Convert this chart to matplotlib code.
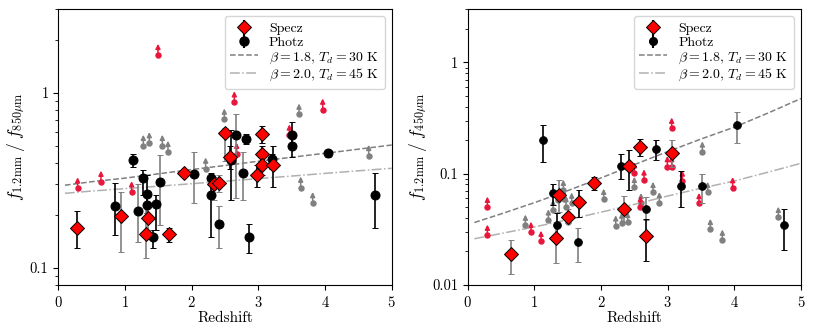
import numpy as np
import matplotlib.pyplot as plt
from matplotlib import ticker
from matplotlib.lines import Line2D

plt.rcParams['font.family'] = 'serif'
plt.rcParams['font.serif'] = ['cmr10', 'DejaVu Serif']
plt.rcParams['mathtext.fontset'] = 'cm'
plt.rcParams['axes.formatter.use_mathtext'] = True
plt.rcParams['font.size'] = 10

# ---------------- left panel: f1.2mm / f850um ----------------
l_spec_z  = [0.285, 0.94, 1.31, 1.35, 1.665, 1.88, 2.33, 2.405, 2.495, 2.575, 2.975, 3.055, 3.055, 3.06, 3.215]
l_spec_r  = [0.170, 0.198, 0.156, 0.193, 0.156, 0.347, 0.302, 0.304, 0.587, 0.432, 0.341, 0.582, 0.448, 0.388, 0.389]
l_spec_lo = [0.130, 0.124, 0.114, 0.165, 0.140, 0.330, 0.246, 0.270, 0.410, 0.370, 0.291, 0.520, 0.400, 0.340, 0.290]
l_spec_hi = [0.212, 0.271, 0.230, 0.230, 0.170, 0.362, 0.330, 0.340, 0.630, 0.500, 0.388, 0.646, 0.500, 0.440, 0.500]

l_phot_z  = [0.855, 1.125, 1.195, 1.275, 1.33, 1.33, 1.425, 1.46, 1.525, 2.035, 2.29, 2.29,
             2.405, 2.585, 2.66, 2.77, 2.815, 2.86, 3.2, 3.505, 3.505, 4.045, 4.745]
l_phot_r  = [0.227, 0.412, 0.212, 0.328, 0.265, 0.230, 0.150, 0.231, 0.309, 0.344, 0.328, 0.261,
             0.179, 0.414, 0.574, 0.347, 0.545, 0.150, 0.420, 0.572, 0.497, 0.455, 0.261]
l_phot_lo = [0.155, 0.378, 0.140, 0.260, 0.205, 0.200, 0.130, 0.165, 0.175, 0.235, 0.300, 0.150,
             0.130, 0.245, 0.250, 0.245, 0.510, 0.122, 0.370, 0.500, 0.430, 0.430, 0.170]
l_phot_hi = [0.305, 0.450, 0.300, 0.363, 0.340, 0.270, 0.165, 0.260, 0.442, 0.460, 0.350, 0.300,
             0.226, 0.613, 0.760, 0.460, 0.580, 0.179, 0.448, 0.680, 0.550, 0.475, 0.350]

l_speclim_z = [0.29, 0.64, 1.10, 1.495, 2.64, 2.675, 3.465, 3.965]
l_speclim_r = [0.285, 0.311, 0.271, 1.65, 0.885, 0.450, 0.572, 0.804]
l_photlim_z = [1.275, 1.365, 1.56, 1.645, 2.21, 2.49, 3.61, 3.635, 3.815, 4.655]
l_photlim_r = [0.499, 0.517, 0.499, 0.461, 0.370, 0.705, 0.753, 0.288, 0.235, 0.437]

model_z = [0.1, 0.5, 1.0, 1.5, 2.0, 2.5, 3.0, 3.5, 4.0, 4.5, 5.0]
l_model_a = [0.297, 0.311, 0.326, 0.345, 0.365, 0.385, 0.407, 0.429, 0.452, 0.477, 0.504]
l_model_b = [0.267, 0.275, 0.284, 0.293, 0.303, 0.313, 0.324, 0.335, 0.347, 0.359, 0.371]

# ---------------- right panel: f1.2mm / f450um ----------------
r_spec_z  = [0.65, 1.32, 1.37, 1.50, 1.67, 1.895, 2.345, 2.42, 2.585, 2.68, 3.06]
r_spec_r  = [0.0189, 0.0263, 0.0645, 0.041, 0.056, 0.083, 0.0486, 0.118, 0.174, 0.0276, 0.155]
r_spec_lo = [0.0126, 0.0157, 0.045, 0.036, 0.041, 0.072, 0.0366, 0.0716, 0.145, 0.0165, 0.115]
r_spec_hi = [0.0254, 0.035, 0.088, 0.048, 0.0716, 0.094, 0.063, 0.164, 0.204, 0.039, 0.200]

r_phot_z  = [1.13, 1.285, 1.345, 1.65, 2.30, 2.67, 2.825, 3.20, 3.51, 4.045, 4.75]
r_phot_r  = [0.2015, 0.0668, 0.0344, 0.0243, 0.118, 0.048, 0.166, 0.0776, 0.0776, 0.275, 0.0344]
r_phot_lo = [0.127, 0.052, 0.027, 0.0162, 0.090, 0.038, 0.133, 0.050, 0.055, 0.188, 0.0206]
r_phot_hi = [0.275, 0.080, 0.044, 0.0324, 0.150, 0.062, 0.200, 0.105, 0.100, 0.357, 0.048]

r_speclim_z = [0.295, 0.295, 0.95, 1.10, 2.50, 2.59, 2.645, 2.995, 3.06, 3.06, 3.22, 3.47, 3.975]
r_speclim_r = [0.050, 0.028, 0.0298, 0.0247, 0.102, 0.0507, 0.088, 0.116, 0.116, 0.257, 0.086, 0.054, 0.075]
r_photlim_z = [0.865, 1.21, 1.28, 1.35, 1.435, 1.44, 1.475, 1.51, 1.56, 2.04, 2.22, 2.31, 2.40,
               2.50, 2.60, 2.78, 2.875, 3.52, 3.60, 3.64, 3.82, 4.66]
r_photlim_r = [0.0345, 0.0385, 0.047, 0.058, 0.071, 0.059, 0.0507, 0.037, 0.0545, 0.059, 0.034, 0.036, 0.0365,
               0.0755, 0.054, 0.068, 0.055, 0.157, 0.068, 0.0316, 0.0253, 0.0406]

r_model_a = [0.0364, 0.0435, 0.0549, 0.0704, 0.0916, 0.1207, 0.158, 0.205, 0.262, 0.350, 0.474]
r_model_b = [0.0260, 0.0290, 0.0332, 0.0385, 0.0451, 0.0530, 0.0630, 0.0740, 0.0860, 0.1030, 0.124]

# which error bars are drawn in grey (style only)
l_spec_grey = [1, 2, 3, 6, 7, 8]
l_phot_grey = [2, 8, 9, 12, 14, 15]
r_spec_grey = [0, 1, 2, 3, 6, 10]
r_phot_grey = [3, 5, 8, 9]

RED_LIM = '#e8163c'
GREY_LIM = '#808080'


def points(ax, z, r, lo, hi, grey, fmt, ms, fc):
    for i in range(len(z)):
        ec = '#808080' if i in grey else 'black'
        ax.errorbar(z[i], r[i], yerr=[[r[i] - lo[i]], [hi[i] - r[i]]], fmt=fmt, ms=ms,
                    mfc=fc, mec='black', mew=0.7, ecolor=ec, elinewidth=1.2,
                    capsize=2.5, capthick=1, zorder=4)


def limits(ax, z, r, color, dex):
    for zi, ri in zip(z, r):
        ax.annotate('', xy=(zi, ri * 10 ** dex), xytext=(zi, ri),
                    arrowprops=dict(arrowstyle='-|>', color=color, lw=1.1,
                                    mutation_scale=7, shrinkA=0, shrinkB=0), zorder=2)
    ax.plot(z, r, 'o', color=color, ms=3.6, zorder=2)


def panel(ax, spec, phot, speclim, photlim, model_a, model_b, ms_d, ms_o, dex):
    ax.plot(model_z, model_a, ls='--', color='#808080', lw=1.1, zorder=1)
    ax.plot(model_z, model_b, ls='-.', color='#b0b0b0', lw=1.1, zorder=1)
    limits(ax, *photlim, GREY_LIM, dex)
    limits(ax, *speclim, RED_LIM, dex)
    points(ax, *phot, 'o', ms_o, 'black')
    points(ax, *spec, 'D', ms_d, 'red')

    h_spec = ax.errorbar([], [], yerr=[], fmt='D', ms=ms_d, mfc='red', mec='black', mew=0.7,
                         ecolor='black', capsize=2.5)
    h_phot = ax.errorbar([], [], yerr=[], fmt='o', ms=ms_o, mfc='black', mec='black',
                         ecolor='black', capsize=2.5)
    h_a = Line2D([], [], ls='--', color='#808080', lw=1.1)
    h_b = Line2D([], [], ls='-.', color='#b0b0b0', lw=1.1)
    ax.legend([h_spec, h_phot, h_a, h_b],
              ['Specz', 'Photz', r'$\beta = 1.8$, $T_d = 30$ K', r'$\beta = 2.0$, $T_d = 45$ K'],
              loc='upper right', fontsize=10, labelspacing=0.1, borderpad=0.4)

    ax.set_yscale('log')
    ax.set_xlim(0, 5)
    ax.set_xticks([0, 1, 2, 3, 4, 5])
    ax.yaxis.set_major_formatter(ticker.FuncFormatter(lambda v, _: f'{v:g}'))
    ax.yaxis.set_minor_formatter(ticker.NullFormatter())
    ax.tick_params(labelsize=10.5)
    ax.set_xlabel('Redshift', labelpad=1, fontsize=11)


fig = plt.figure(figsize=(8.14, 3.36), dpi=100)
ax1 = fig.add_axes([0.0716, 0.152, 0.4096, 0.820])
ax2 = fig.add_axes([0.5746, 0.152, 0.4094, 0.820])

panel(ax1, (l_spec_z, l_spec_r, l_spec_lo, l_spec_hi, l_spec_grey),
      (l_phot_z, l_phot_r, l_phot_lo, l_phot_hi, l_phot_grey),
      (l_speclim_z, l_speclim_r), (l_photlim_z, l_photlim_r),
      l_model_a, l_model_b, 7.5, 6.5, 0.063)
ax1.set_ylim(0.08, 3)
ax1.set_ylabel(r'$f_{1.2\mathrm{mm}}\;/\;f_{850\mu\mathrm{m}}$', fontsize=12.5, labelpad=2)

panel(ax2, (r_spec_z, r_spec_r, r_spec_lo, r_spec_hi, r_spec_grey),
      (r_phot_z, r_phot_r, r_phot_lo, r_phot_hi, r_phot_grey),
      (r_speclim_z, r_speclim_r), (r_photlim_z, r_photlim_r),
      r_model_a, r_model_b, 7, 5.5, 0.095)
ax2.set_ylim(0.01, 3)
ax2.set_ylabel(r'$f_{1.2\mathrm{mm}}\;/\;f_{450\mu\mathrm{m}}$', fontsize=12.5, labelpad=2)

fig.savefig('out.png', dpi=100)
